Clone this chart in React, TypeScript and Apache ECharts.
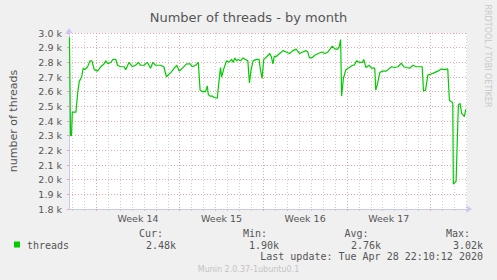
import React, { useEffect, useRef } from "react";
import * as echarts from "echarts";

const chartTitle = "Number of threads - by month";
const yAxisName = "number of threads";
const sideText = "RRDTOOL / TOBI OETIKER";
const versionText = "Munin 2.0.37-1ubuntu0.1";
const seriesName = "threads";

// x: days since the left edge of the plot
const days = [
  0.04, 0.125, 0.21, 0.275, 0.58, 0.725, 0.86, 1.06, 1.19, 1.33, 1.56, 1.75, 1.92, 2.11, 2.39, 2.67, 2.94,
  3.08, 3.28, 3.5, 3.69, 3.92, 4.06, 4.33, 4.61, 4.75, 5.03, 5.31, 5.58, 5.81, 6.0, 6.28, 6.56, 6.83,
  7.03, 7.25, 7.67, 7.94, 8.17, 8.25, 8.53, 8.81, 9.03, 9.23, 9.5, 9.86, 10.14, 10.33, 10.61, 10.83,
  10.98, 11.17, 11.44, 11.58, 11.67, 11.81, 12.0, 12.14, 12.42, 12.56, 12.69, 12.78, 12.98, 13.19,
  13.39, 13.61, 13.75, 13.89, 14.03, 14.17, 14.36, 14.58, 14.78, 14.98, 15.11, 15.25, 15.42, 15.69,
  15.92, 16.03, 16.17, 16.31, 16.58, 16.81, 16.94, 17.08, 17.19, 17.36, 17.64, 17.92, 18.19, 18.47,
  18.75, 19.03, 19.31, 19.58, 19.86, 20.0, 20.14, 20.33, 20.61, 20.89, 21.17, 21.44, 21.67, 21.86,
  22.06, 22.28, 22.5, 22.64, 22.75, 22.83, 22.98, 23.19, 23.47, 23.75, 23.89, 24.08, 24.31, 24.58,
  24.69, 24.86, 25.14, 25.33, 25.61, 25.69, 25.83, 26.03, 26.25, 26.53, 26.72, 27.0, 27.28, 27.56,
  27.83, 28.03, 28.25, 28.53, 28.81, 29.08, 29.36, 29.58, 29.69, 29.86, 30.06, 30.33, 30.61, 30.89,
  31.17, 31.44, 31.72, 31.86, 32.08, 32.14, 32.19, 32.42, 32.61, 32.75, 32.89, 33.03, 33.11, 33.23,
];
const threads = [
  2970, 2300, 2300, 2460, 2460, 2590, 2670, 2700, 2760, 2750, 2770, 2810, 2810, 2750, 2740, 2770, 2790,
  2810, 2790, 2800, 2820, 2820, 2780, 2770, 2770, 2750, 2800, 2770, 2780, 2800, 2780, 2780, 2800, 2760,
  2800, 2780, 2780, 2770, 2700, 2710, 2730, 2760, 2780, 2740, 2760, 2790, 2790, 2770, 2780, 2800,
  2610, 2600, 2600, 2640, 2580, 2570, 2570, 2560, 2555, 2670, 2765, 2700, 2760, 2810,
  2800, 2820, 2800, 2830, 2810, 2820, 2810, 2830, 2820, 2810, 2660, 2750, 2810, 2820,
  2820, 2750, 2690, 2820, 2840, 2860, 2840, 2790, 2840, 2840, 2860, 2880, 2870, 2860,
  2880, 2890, 2860, 2870, 2880, 2870, 2830, 2830, 2850, 2860, 2870, 2860, 2870, 2890,
  2910, 2890, 2890, 2910, 2955, 2570, 2690, 2750, 2765, 2780, 2780, 2810, 2800, 2800,
  2820, 2765, 2780, 2760, 2760, 2610, 2650, 2730, 2740, 2740, 2750, 2770, 2765, 2770,
  2795, 2770, 2765, 2760, 2780, 2770, 2770, 2770, 2605, 2610, 2715, 2720, 2730, 2740,
  2755, 2750, 2755, 2540, 2530, 2520, 1970, 1990, 2510, 2520, 2450, 2440, 2430, 2480,
];

const xMax = 33.333;
const weekStarts = [2.275, 9.275, 16.275, 23.275, 30.275];
const weekLabels = ["Week 14", "Week 15", "Week 16", "Week 17"];
const yMin = 1800;
const yMax = 3000;
const yStep = 100;

const legendHeaders = ["Cur:", "Min:", "Avg:", "Max:"];
const legendValues = ["2.48k", "1.90k", "2.76k", "3.02k"];
const lastUpdate = "Last update: Tue Apr 28 22:10:12 2020";

const dayLines: number[] = [];
for (let d = weekStarts[0] - 2; d < xMax; d += 1) dayLines.push(+d.toFixed(3));
const weekMids = weekLabels.map((_, i) => (weekStarts[i] + weekStarts[i + 1]) / 2);

const TEXT = "#555555";
const MONO = "'DejaVu Sans Mono', monospace";
const SANS = "'DejaVu Sans', sans-serif";

export default function App() {
  const ref = useRef<HTMLDivElement>(null);
  useEffect(() => {
    if (!ref.current) return;
    const chart = echarts.init(ref.current, undefined, { renderer: "svg" });
    const headerRight = [163, 267, 368.5, 470];
    const valueRight = [176, 279, 381, 483];
    const graphics: any[] = [
      {
        type: "text",
        x: 487,
        y: 56,
        rotation: -Math.PI / 2,
        style: { text: sideText, fill: "#c8c8c8", font: `8px ${SANS}`, align: "center", verticalAlign: "middle" },
      },
      { type: "rect", shape: { x: 14, y: 241.5, width: 6, height: 6 }, style: { fill: "#00cc00" } },
      {
        type: "text",
        x: 27,
        y: 245,
        style: { text: seriesName, fill: TEXT, font: `10px ${MONO}`, align: "left", verticalAlign: "middle" },
      },
      {
        type: "text",
        x: 483,
        y: 256.5,
        style: { text: lastUpdate, fill: TEXT, font: `10px ${MONO}`, align: "right", verticalAlign: "middle" },
      },
      {
        type: "text",
        x: 248.5,
        y: 269.5,
        style: { text: versionText, fill: "#c4c4c4", font: `8px ${SANS}`, align: "center", verticalAlign: "middle" },
      },
    ];
    legendHeaders.forEach((h, i) => {
      graphics.push({
        type: "text",
        x: headerRight[i],
        y: 233.5,
        style: { text: h, fill: TEXT, font: `10px ${MONO}`, align: "right", verticalAlign: "middle" },
      });
      graphics.push({
        type: "text",
        x: valueRight[i],
        y: 245,
        style: { text: legendValues[i], fill: TEXT, font: `10px ${MONO}`, align: "right", verticalAlign: "middle" },
      });
    });

    chart.setOption({
      animation: false,
      backgroundColor: "#f0f0f0",
      title: {
        text: chartTitle,
        left: "center",
        top: 6,
        textStyle: { color: TEXT, fontSize: 13, fontWeight: "normal", fontFamily: SANS },
      },
      grid: {
        left: 67,
        right: 30,
        top: 33,
        bottom: 71,
        show: true,
        backgroundColor: "#ffffff",
        borderWidth: 0,
      },
      xAxis: [
        {
          type: "value",
          min: 0,
          max: xMax,
          axisLine: { show: true, lineStyle: { color: "#c8c8f4", width: 1 }, symbol: ["none", "arrow"], symbolSize: [6, 6], symbolOffset: [0, 5] },
          axisTick: { show: true, customValues: dayLines, length: 2, lineStyle: { color: "#c8c8c8" } },
          axisLabel: { show: false },
          splitLine: { show: true, lineStyle: { color: "#d0d0d0", type: [1, 2], width: 1 } },
        },
        {
          type: "value",
          min: 0,
          max: xMax,
          position: "bottom",
          axisLine: { show: false },
          axisTick: { show: true, customValues: weekStarts, length: 2, lineStyle: { color: "#f4a0a0" } },
          axisLabel: {
            show: true,
            customValues: weekMids,
            margin: 4,
            color: TEXT,
            fontSize: 9.5,
            fontFamily: SANS,
            formatter: (v: number) => {
              let best = 0;
              weekMids.forEach((m, i) => {
                if (Math.abs(m - v) < Math.abs(weekMids[best] - v)) best = i;
              });
              return weekLabels[best];
            },
          },
          splitLine: { show: true, lineStyle: { color: "#f4a0a0", type: [1, 2], width: 1 } },
        },
      ],
      yAxis: {
        type: "value",
        min: yMin,
        max: yMax,
        interval: yStep,
        name: yAxisName,
        nameLocation: "middle",
        nameGap: 50,
        nameTextStyle: { color: TEXT, fontSize: 11, fontFamily: SANS },
        axisLine: { show: true, lineStyle: { color: "#c8c8f4", width: 1 }, symbol: ["none", "arrow"], symbolSize: [6, 6], symbolOffset: [0, 5] },
        axisTick: { show: true, length: 2, lineStyle: { color: "#f4a0a0" } },
        axisLabel: {
          color: TEXT,
          fontSize: 9.5,
          fontFamily: SANS,
          margin: 7,
          formatter: (v: number) => (v / 1000).toFixed(1) + " k",
        },
        splitLine: { show: true, lineStyle: { color: "#f4a0a0", type: [1, 2], width: 1 } },
      },
      series: [
        {
          name: seriesName,
          type: "line",
          xAxisIndex: 0,
          data: days.map((d, i) => [d, threads[i]]),
          showSymbol: false,
          lineStyle: { color: "#00cc00", width: 1.2 },
          z: 5,
        },
      ],
      graphic: graphics,
    });
    return () => chart.dispose();
  }, []);
  return <div ref={ref} style={{ position: "fixed", left: 0, top: 0, width: 497, height: 280 }} />;
}
